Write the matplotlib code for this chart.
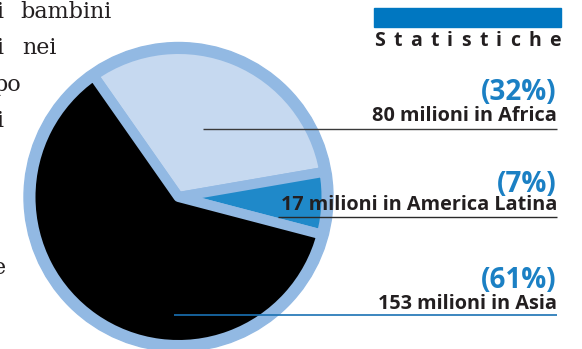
import matplotlib
matplotlib.use("Agg")
import matplotlib.pyplot as plt
from matplotlib.patches import Circle, Rectangle

# ---- data ----
regions = ["Africa", "America Latina", "Asia"]
millions = [80, 17, 153]
percent_labels = ["(32%)", "(7%)", "(61%)"]
count_labels = ["80 milioni in Africa", "17 milioni in America Latina", "153 milioni in Asia"]
slice_colors = ["#c6d9f0", "#1f89c9", "#000000"]
header = "Statistiche"
side_words = ["i", "bambini", "i", "nei", "po", "i", "e"]

# ---- layout ----
W, H = 582, 349
fig = plt.figure(figsize=(W / 100, H / 100), dpi=100)
ax = fig.add_axes([0, 0, 1, 1])


def Y(y):
    return H - y


ring = "#92b9e3"
dark = "#231f20"
blue_txt = "#1b80c4"
sans = "Open Sans"
cx, cy = 178.5, Y(197)
ax.add_patch(Circle((cx, cy), 154.5, color=ring, zorder=1))
lw_px = 10
wedges, _ = ax.pie(millions, colors=slice_colors, startangle=125, counterclock=False,
                   center=(cx, cy), radius=143 + lw_px / 2, frame=True,
                   wedgeprops=dict(edgecolor=ring, linewidth=lw_px * 0.72,
                                   joinstyle="round", zorder=2))
ax.set_xlim(0, W)
ax.set_ylim(0, H)
ax.axis("off")

# left column body text (cropped)
serif = dict(family="DejaVu Serif", fontsize=16, color=dark, va="baseline")
side_pos = [(3.5, 18, "right"), (20.5, 18, "left"), (3.5, 54, "right"), (22, 54, "left"),
            (21, 91, "right"), (3.5, 127, "right"), (5.5, 274, "right")]
for word, (x, y, ha) in zip(side_words, side_pos):
    ax.text(x, Y(y), word, ha=ha, **serif)

# header bar
ax.add_patch(Rectangle((374, Y(27)), 187, 19, color="#0077c1", zorder=3))

# letter-spaced header
fig.canvas.draw()
r = fig.canvas.get_renderer()
chars = []
widths = []
for ch in header:
    t = ax.text(0, Y(46.5), ch, family=sans, fontweight="bold", fontsize=14,
                color=dark, ha="left", va="baseline")
    chars.append(t)
    bb = t.get_window_extent(renderer=r)
    widths.append(bb.width)
span_l, span_r = 374, 561
gap = (span_r - span_l - sum(widths)) / (len(header) - 1)
x = span_l
for t, w in zip(chars, widths):
    t.set_x(x)
    x += w + gap

# labels
pct_base = [99.5, 191.5, 287.5]
cnt_base = [121, 210.5, 309]
for p, c, yb, yc in zip(percent_labels, count_labels, pct_base, cnt_base):
    ax.text(557, Y(yb), p, family=sans, fontweight="bold", fontsize=20,
            color=blue_txt, ha="right", va="baseline", zorder=5)
    ax.text(557, Y(yc), c, family=sans, fontweight="bold", fontsize=14.3,
            color=dark, ha="right", va="baseline", zorder=5)

# leader lines
ax.plot([203, 557], [Y(129), Y(129)], color="#3a3a3a", lw=1.0, zorder=4,
        solid_capstyle="butt")
ax.plot([278, 557], [Y(217), Y(217)], color="#2a2a2a", lw=1.0, zorder=4,
        solid_capstyle="butt")
ax.plot([174, 557], [Y(314.5), Y(314.5)], color="#1a72b4", lw=1.2, zorder=4,
        solid_capstyle="butt")

fig.savefig("out.png", dpi=100)
